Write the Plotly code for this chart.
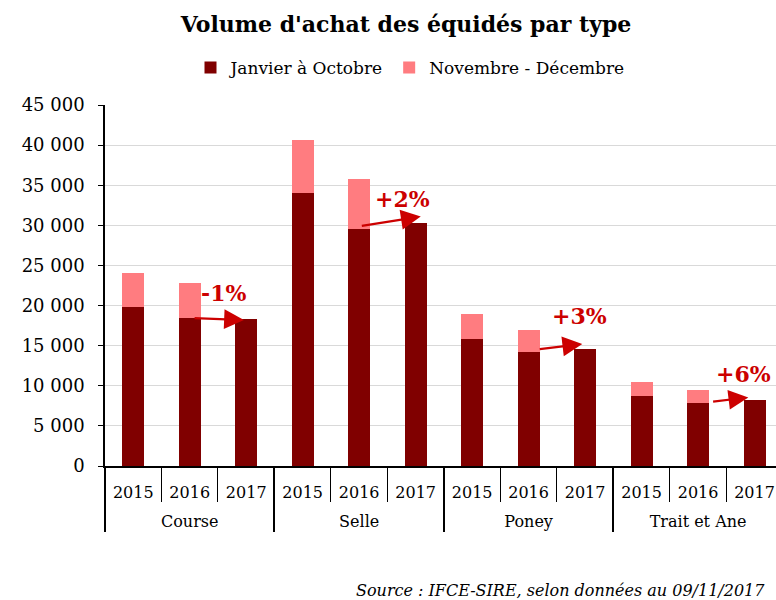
import plotly.graph_objects as go

types = ["Course"] * 3 + ["Selle"] * 3 + ["Poney"] * 3 + ["Trait et Ane"] * 3
years = ["2015", "2016", "2017"] * 4
jan_oct = [19800, 18500, 18300, 34000, 29600, 30300, 15800, 14200, 14600, 8700, 7800, 8200]
nov_dec = [4200, 4300, None, 6600, 6200, None, 3100, 2700, None, 1800, 1700, None]

changes = ["-1%", "+2%", "+3%", "+6%"]
# arrow tail/tip (category index, value) and label positions
arrow_tail_x = [1.06, 4.02, 7.17, 10.24]
arrow_tail_y = [18450, 29900, 14550, 8000]
arrow_tip_x = [1.96, 5.09, 7.95, 10.89]
arrow_tip_y = [18200, 31100, 15200, 8550]
label_x = [1.59, 4.76, 7.9, 10.81]
label_y = [21600, 33300, 18700, 11500]

FONT = "DejaVu Serif"
DARK = "#800000"
PINK = "#FF7C80"
RED = "#CC0000"

L, R, T, B = 105, 0, 105, 134
W, H = 776, 600
PH = H - T - B
PW = W - L - R

# tick labels: 16px text on a smaller base size, levels dropped by short empty lines
SPAN = "<span style='font-size:16px'>%s</span>"
year_labels = ["<br>" + SPAN % y for y in years]
type_labels = ["<br><br>" + SPAN % t for t in types]
xcats = [type_labels, year_labels]

fig = go.Figure()
fig.add_trace(go.Bar(x=xcats, y=jan_oct, name="Janvier à Octobre",
                     marker=dict(color=DARK, line=dict(width=0))))
fig.add_trace(go.Bar(x=xcats, y=nov_dec, name="Novembre - Décembre",
                     marker=dict(color=PINK, line=dict(width=0))))

annotations = []
for i in range(4):
    annotations.append(dict(x=arrow_tip_x[i], y=arrow_tip_y[i], ax=arrow_tail_x[i], ay=arrow_tail_y[i],
                            xref="x", yref="y", axref="x", ayref="y", text="",
                            showarrow=True, arrowhead=2, arrowsize=1.8, arrowwidth=2.2,
                            arrowcolor=RED))
    annotations.append(dict(x=label_x[i], y=label_y[i], xref="x", yref="y", text="<b>%s</b>" % changes[i],
                            showarrow=False, font=dict(family=FONT, size=22, color=RED)))
annotations.append(dict(text="Source : IFCE-SIRE, selon données au 09/11/2017", xref="paper", yref="paper",
                        x=(767 - L) / PW, y=(H - B - 590) / PH, xanchor="right", yanchor="middle",
                        showarrow=False,
                        font=dict(family=FONT, size=16, color="#000000", style="italic")))

fig.update_layout(
    width=W, height=H,
    barmode="stack", bargap=0.61,
    separators=", ",
    paper_bgcolor="white", plot_bgcolor="white",
    margin=dict(l=L, r=R, t=T, b=B, autoexpand=False),
    font=dict(family=FONT, size=16, color="#000000"),
    title=dict(text="<b>Volume d'achat des équidés par type</b>", x=406 / W, xanchor="center",
               y=1 - 24 / H, yanchor="middle", font=dict(family=FONT, size=22, color="#000000")),
    legend=dict(orientation="h", xref="container", yref="container", x=410 / W, xanchor="center",
                y=1 - 68 / H, yanchor="middle", font=dict(family=FONT, size=17), traceorder="normal",
                itemwidth=30),
    annotations=annotations,
)
fig.update_yaxes(range=[0, 45000], dtick=5000, tickformat=",d", showgrid=True, gridcolor="#D9D9D9",
                 gridwidth=1, showline=True, linecolor="black", linewidth=1.5, ticks="outside",
                 ticklen=5, tickcolor="black", zeroline=False, tickfont=dict(family=FONT, size=18),
                 ticklabelstandoff=10, automargin=False)
fig.update_xaxes(type="multicategory", range=[-0.5, 11.38], showline=True, linecolor="black", linewidth=1.5,
                 ticks="outside", ticklen=34, tickcolor="black", showdividers=True, dividercolor="black",
                 dividerwidth=1.5, tickfont=dict(family=FONT, size=10), ticklabelstandoff=5,
                 automargin=False)

fig.write_html("out.html", config={"displayModeBar": False},
               post_script="document.body.style.margin='0px';")
